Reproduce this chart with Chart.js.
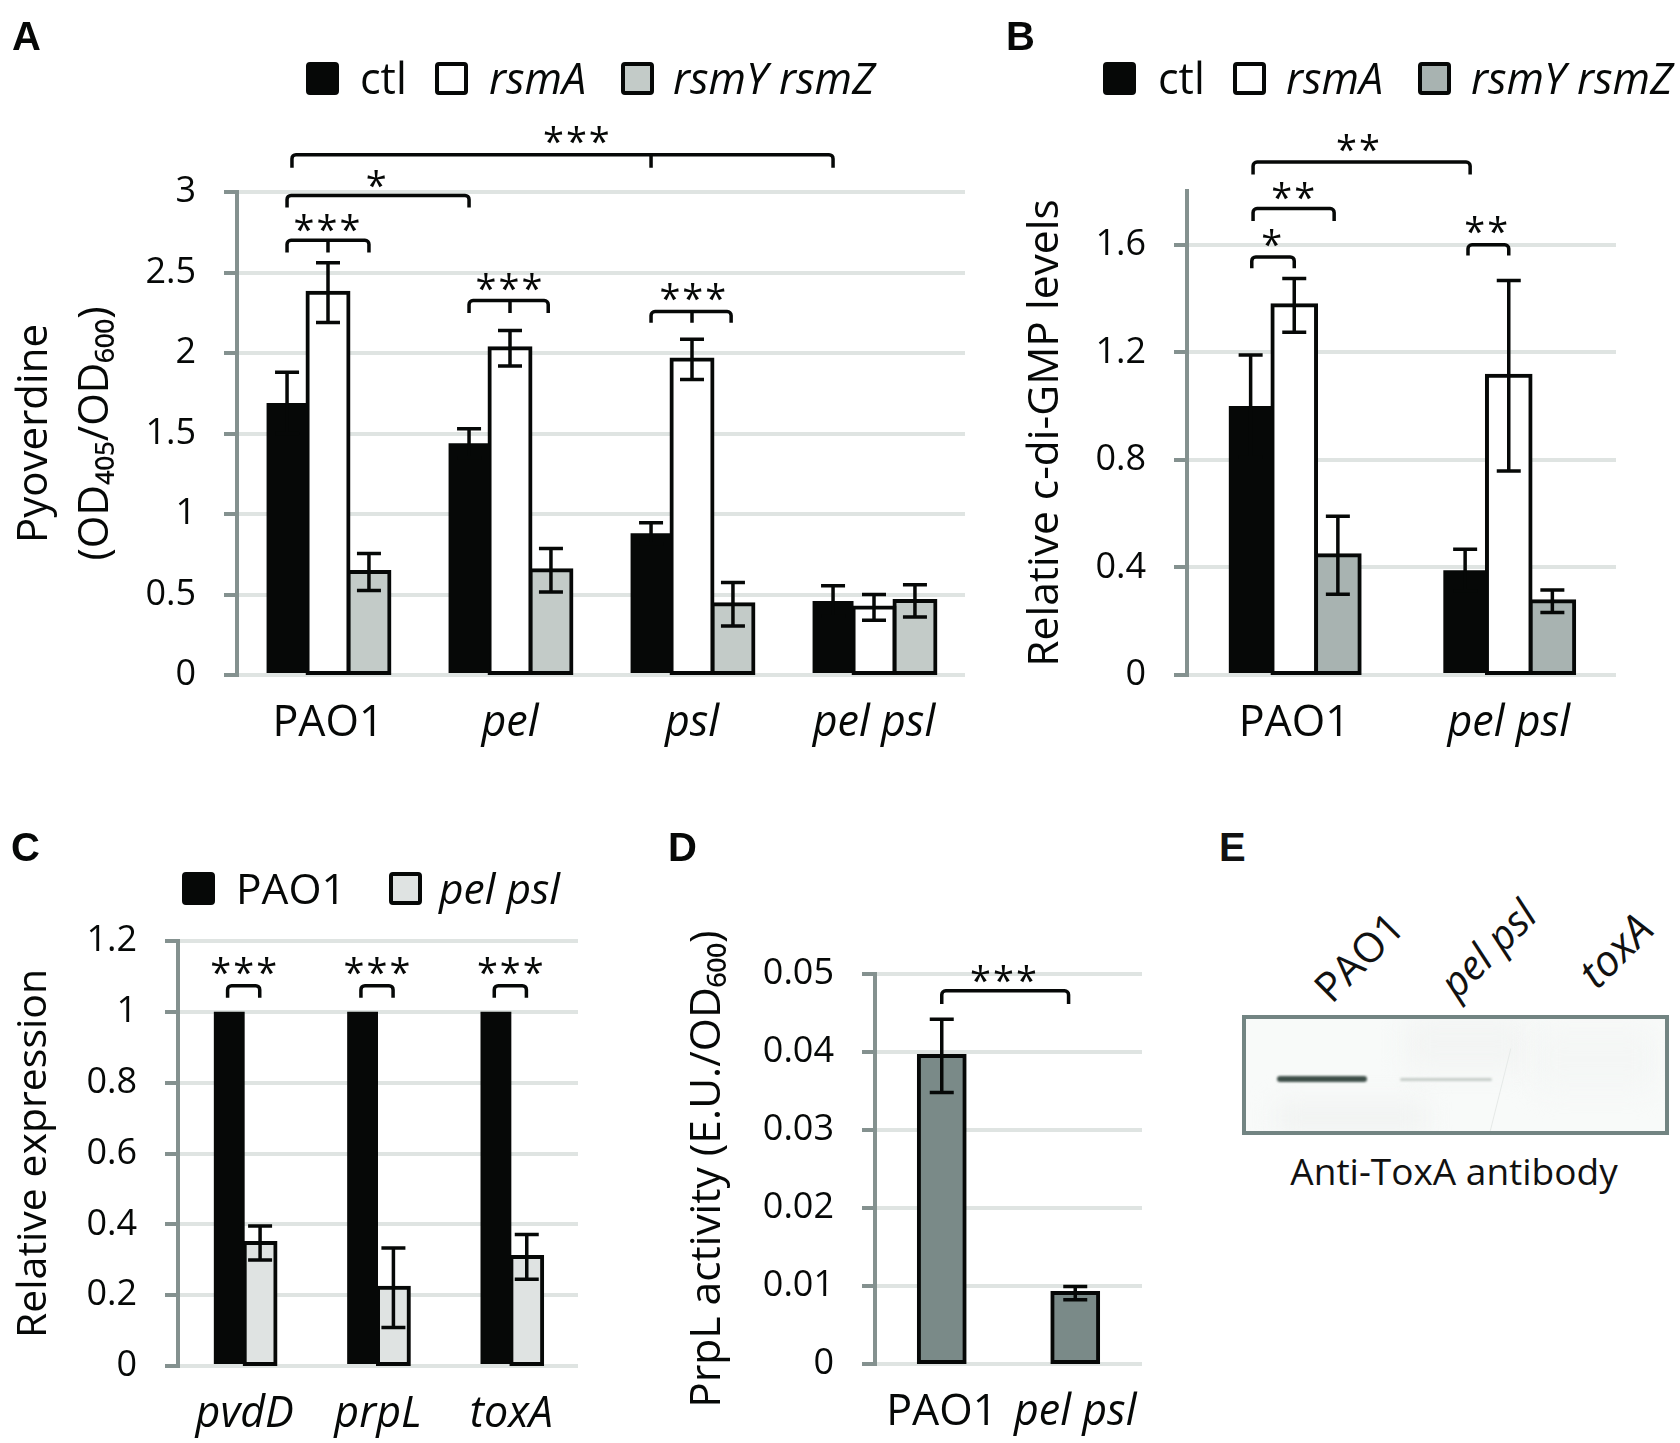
<!DOCTYPE html>
<html>
<head>
<meta charset="utf-8">
<title>Panels A-E</title>
<script src="https://cdn.jsdelivr.net/npm/chart.js@4"></script>
<style>
    body { margin: 0; background: #fff; }
    #pagina { position: relative; width: 1680px; height: 1443px; overflow: hidden; font-family: "Open Sans"; color: #111; }
    canvas { position: absolute; }
    .letra { position: absolute; font: bold 40px "Liberation Sans"; line-height: 40px; }
    .carril { position: absolute; font-size: 41px; line-height: 44px; white-space: nowrap; transform: translate(-50%, -50%) rotate(-45deg); }
    #blot { position: absolute; left: 1242px; top: 1015px; width: 419px; height: 112px; border: 4px solid #728482; background: #f8faf9; overflow: hidden; }
    .banda { position: absolute; border-radius: 3px; }
    #pie { position: absolute; left: 1454px; top: 1170px; transform: translate(-50%, -50%); font-size: 37px; white-space: nowrap; }
</style>
</head>
<body>
<div id="pagina">
    <canvas id="graficoA" width="1000" height="760" style="left:0;top:0"></canvas>
    <canvas id="graficoB" width="680" height="760" style="left:1000px;top:0"></canvas>
    <canvas id="graficoC" width="620" height="643" style="left:0;top:800px"></canvas>
    <canvas id="graficoD" width="560" height="643" style="left:640px;top:800px"></canvas>

    <div class="letra" style="left:1219px;top:827px">E</div>
    <div class="carril" style="left:1358px;top:956px">PAO1</div>
    <div class="carril" style="left:1487px;top:948px;font-style:italic">pel psl</div>
    <div class="carril" style="left:1615px;top:950px;font-style:italic;font-size:43px">toxA</div>
    <div id="blot">
        <!-- manchas suaves del fondo -->
        <div class="banda" style="left:30px;top:82px;width:150px;height:34px;background:#f1f3f2;filter:blur(12px)"></div>
        <div class="banda" style="left:160px;top:0;width:120px;height:50px;background:#f2f4f3;filter:blur(14px)"></div>
        <div class="banda" style="left:290px;top:10px;width:120px;height:60px;background:#f4f6f5;filter:blur(14px)"></div>
        <!-- bandas del western -->
        <div class="banda" style="left:31px;top:57px;width:90px;height:6px;background:#3e4f49;filter:blur(.8px)"></div>
        <div class="banda" style="left:154px;top:59px;width:92px;height:3px;background:#c6cdc9;filter:blur(1px)"></div>
        <!-- rayita de la membrana -->
        <div class="banda" style="left:253px;top:28px;width:1px;height:94px;background:#e6eae8;transform:rotate(14deg)"></div>
    </div>
    <div id="pie">Anti-ToxA antibody</div>
</div>

<script>
// Datos

// Panel A
const gruposA = ['PAO1', 'pel', 'psl', 'pel psl'];
const ctlA = [1.69, 1.44, 0.88, 0.46];
const rsmaA = [2.375, 2.03, 1.96, 0.42];
const rsmyzA = [0.64, 0.65, 0.44, 0.46];
const errCtlA = [0.19, 0.09, 0.065, 0.095];
const errRsmaA = [0.185, 0.11, 0.125, 0.08];
const errRsmyzA = [0.115, 0.135, 0.135, 0.10];

// Panel B
const gruposB = ['PAO1', 'pel psl'];
const ctlB = [1.0, 0.39];
const rsmaB = [1.375, 1.113];
const rsmyzB = [0.445, 0.274];
const errCtlB = [0.19, 0.078];
const errRsmaB = [0.10, 0.354];
const errRsmyzB = [0.145, 0.042];

// Panel C
const genesC = ['pvdD', 'prpL', 'toxA'];
const pao1C = [1, 1, 1];
const pelpslC = [0.347, 0.221, 0.308];
const errPelpslC = [0.048, 0.112, 0.063];

// Panel D
const gruposD = ['PAO1', 'pel psl'];
const actividadD = [0.0395, 0.0091];
const errActividadD = [0.0047, 0.00085];

const NEGRO = '#060807';
const fuente = '"Open Sans"';

// Dibuja letra del panel, leyenda, barras de error y corchetes
function pluginPanel(cfg) {
    return {
        id: 'panel' + cfg.letra,
        afterDatasetsDraw(chart) {
            const ctx = chart.ctx;
            const x = chart.scales.x;
            const y = chart.scales.y;
            ctx.save();

            // barras de error
            ctx.strokeStyle = NEGRO;
            ctx.lineWidth = 3.5;
            chart.data.datasets.forEach((ds, i) => {
                if (!ds.errores) return;
                chart.getDatasetMeta(i).data.forEach((barra, j) => {
                    const arriba = y.getPixelForValue(ds.data[j] + ds.errores[j]);
                    const abajo = y.getPixelForValue(ds.data[j] - ds.errores[j]);
                    ctx.beginPath();
                    ctx.moveTo(barra.x, arriba);
                    ctx.lineTo(barra.x, abajo);
                    ctx.moveTo(barra.x - 12, arriba);
                    ctx.lineTo(barra.x + 12, arriba);
                    ctx.moveTo(barra.x - 12, abajo);
                    ctx.lineTo(barra.x + 12, abajo);
                    ctx.stroke();
                });
            });

            // corchetes y asteriscos
            ctx.lineWidth = 3.5;
            cfg.corchetes.forEach(c => {
                const x0 = x.getPixelForValue(c.desde);
                const x1 = x.getPixelForValue(c.hasta);
                const yArriba = y.getPixelForValue(c.y);
                const yAbajo = y.getPixelForValue(c.yFin);
                ctx.beginPath();
                ctx.moveTo(x0, yAbajo);
                ctx.arcTo(x0, yArriba, x1, yArriba, 4);
                ctx.arcTo(x1, yArriba, x1, yAbajo, 4);
                ctx.lineTo(x1, yAbajo);
                if (c.medio !== undefined) {
                    const xm = x.getPixelForValue(c.medio);
                    ctx.moveTo(xm, yArriba);
                    ctx.lineTo(xm, yAbajo);
                }
                ctx.stroke();

                ctx.fillStyle = NEGRO;
                ctx.font = '38px ' + fuente;
                ctx.textAlign = 'center';
                ctx.textBaseline = 'alphabetic';
                ctx.letterSpacing = '2px';
                ctx.fillText(c.texto, x.getPixelForValue(c.xTexto), y.getPixelForValue(c.yTexto) + 20);
                ctx.letterSpacing = '0px';
            });

            // leyenda
            ctx.textAlign = 'left';
            ctx.textBaseline = 'middle';
            cfg.leyenda.forEach((l, i) => {
                const ds = chart.data.datasets[i];
                ctx.fillStyle = ds.backgroundColor;
                ctx.strokeStyle = NEGRO;
                ctx.lineWidth = 4;
                ctx.beginPath();
                ctx.roundRect(l.caja + 2, cfg.cajaY + 2, cfg.cajaAncho - 4, cfg.cajaAlto - 4, 2);
                ctx.fill();
                ctx.stroke();
                ctx.fillStyle = NEGRO;
                ctx.font = (l.cursiva ? 'italic ' : '') + cfg.tamLeyenda + 'px ' + fuente;
                ctx.fillText(l.texto, l.textoX, cfg.cajaY + cfg.cajaAlto / 2 + 3);
            });

            // letra del panel
            ctx.fillStyle = NEGRO;
            ctx.font = 'bold 40px "Liberation Sans"';
            ctx.textBaseline = 'alphabetic';
            ctx.fillText(cfg.letra, cfg.letraX, cfg.letraY);
            ctx.restore();
        }
    };
}

// Funcion para crear cada grafico de barras
function crearGrafica(canvasId, etiquetas, series, cfg) {
    const canvas = document.getElementById(canvasId);
    return new Chart(canvas.getContext('2d'), {
        type: 'bar',
        data: {
            labels: etiquetas,
            datasets: series.map(s => ({
                label: s.nombre,
                data: s.valores,
                errores: s.errores,
                backgroundColor: s.color,
                borderColor: NEGRO,
                borderWidth: s.color === NEGRO ? 0 : 4,
                inflateAmount: s.color === NEGRO ? 0 : 2,
                borderSkipped: false,
                barPercentage: 1,
                categoryPercentage: cfg.anchoGrupo
            }))
        },
        options: {
            responsive: false,
            animation: false,
            devicePixelRatio: 1,
            layout: { padding: { top: cfg.area.top, right: canvas.width - cfg.area.right, left: 0, bottom: 0 } },
            plugins: { legend: { display: false }, tooltip: { enabled: false } },
            scales: {
                x: {
                    grid: { display: false },
                    border: { display: false },
                    afterFit: s => { s.height = canvas.height - cfg.area.bottom; },
                    ticks: {
                        padding: 15,
                        color: NEGRO,
                        maxRotation: 0,
                        autoSkip: false,
                        font: c => ({ family: fuente, size: 43, style: c.index < cfg.rectas ? 'normal' : 'italic' })
                    }
                },
                y: {
                    min: 0,
                    max: cfg.max,
                    afterFit: s => { s.width = cfg.area.left; },
                    border: { color: '#84918f', width: 4 },
                    grid: { color: '#dfe4e2', lineWidth: 4, tickColor: '#84918f', tickWidth: 4, tickLength: 13 },
                    ticks: {
                        stepSize: cfg.paso,
                        includeBounds: false,
                        padding: 28,
                        color: NEGRO,
                        font: { family: fuente, size: 36 },
                        callback: v => String(+v.toFixed(2))
                    },
                    title: {
                        display: true,
                        text: cfg.titulo,
                        color: NEGRO,
                        font: { family: fuente, size: cfg.tamTitulo, lineHeight: cfg.alturaTitulo },
                        padding: { top: cfg.paddingTitulo, bottom: 0 }
                    }
                }
            }
        },
        plugins: [pluginPanel(cfg)]
    });
}

crearGrafica('graficoA', gruposA, [
    { nombre: 'ctl', valores: ctlA, errores: errCtlA, color: NEGRO },
    { nombre: 'rsmA', valores: rsmaA, errores: errRsmaA, color: '#ffffff' },
    { nombre: 'rsmY rsmZ', valores: rsmyzA, errores: errRsmyzA, color: '#c3cbc8' }
], {
    letra: 'A', letraX: 12, letraY: 50,
    area: { left: 237, right: 965, top: 192, bottom: 675 },
    anchoGrupo: 0.675, max: 3, paso: 0.5, rectas: 1,
    tamLeyenda: 43, tamTitulo: 42,
    titulo: ['Pyoverdine', '(OD₄₀₅/OD₆₀₀)'], alturaTitulo: 1.44, paddingTitulo: 5,
    cajaY: 62, cajaAlto: 33, cajaAncho: 33,
    leyenda: [
        { caja: 306, texto: 'ctl', textoX: 360 },
        { caja: 435, texto: 'rsmA', textoX: 489, cursiva: true },
        { caja: 621, texto: 'rsmY rsmZ', textoX: 673, cursiva: true }
    ],
    corchetes: [
        { desde: -0.198, hasta: 2.775, medio: 1.775, y: 3.232, yFin: 3.151, texto: '***', xTexto: 1.37, yTexto: 3.352 },
        { desde: -0.225, hasta: 0.775, y: 2.979, yFin: 2.904, texto: '*', xTexto: 0.27, yTexto: 3.08 },
        { desde: -0.225, hasta: 0.225, medio: 0, y: 2.70, yFin: 2.624, texto: '***', xTexto: 0, yTexto: 2.81 },
        { desde: 0.775, hasta: 1.21, medio: 1, y: 2.326, yFin: 2.248, texto: '***', xTexto: 1, yTexto: 2.44 },
        { desde: 1.775, hasta: 2.215, medio: 2, y: 2.257, yFin: 2.188, texto: '***', xTexto: 2.01, yTexto: 2.377 }
    ]
});

crearGrafica('graficoB', gruposB, [
    { nombre: 'ctl', valores: ctlB, errores: errCtlB, color: NEGRO },
    { nombre: 'rsmA', valores: rsmaB, errores: errRsmaB, color: '#ffffff' },
    { nombre: 'rsmY rsmZ', valores: rsmyzB, errores: errRsmyzB, color: '#a8b3b1' }
], {
    letra: 'B', letraX: 6, letraY: 50,
    area: { left: 187, right: 616, top: 191, bottom: 675 },
    anchoGrupo: 0.61, max: 1.8, paso: 0.4, rectas: 1,
    tamLeyenda: 43, tamTitulo: 42.5,
    titulo: 'Relative c-di-GMP levels', alturaTitulo: 1.2, paddingTitulo: 20,
    cajaY: 62, cajaAlto: 33, cajaAncho: 33,
    leyenda: [
        { caja: 103, texto: 'ctl', textoX: 158 },
        { caja: 233, texto: 'rsmA', textoX: 286, cursiva: true },
        { caja: 418, texto: 'rsmY rsmZ', textoX: 471, cursiva: true }
    ],
    corchetes: [
        { desde: -0.192, hasta: 0.82, y: 1.908, yFin: 1.861, texto: '**', xTexto: 0.302, yTexto: 1.979 },
        { desde: -0.192, hasta: 0.186, y: 1.735, yFin: 1.688, texto: '**', xTexto: 0, yTexto: 1.80 },
        { desde: -0.198, hasta: 0, y: 1.555, yFin: 1.513, texto: '*', xTexto: -0.1, yTexto: 1.627 },
        { desde: 0.81, hasta: 1, y: 1.60, yFin: 1.56, texto: '**', xTexto: 0.9, yTexto: 1.672 }
    ]
});

crearGrafica('graficoC', genesC, [
    { nombre: 'PAO1', valores: pao1C, color: NEGRO },
    { nombre: 'pel psl', valores: pelpslC, errores: errPelpslC, color: '#dfe3e2' }
], {
    letra: 'C', letraX: 11, letraY: 61,
    area: { left: 178, right: 578, top: 141, bottom: 566 },
    anchoGrupo: 0.4625, max: 1.2, paso: 0.2, rectas: 0,
    tamLeyenda: 42.5, tamTitulo: 41,
    titulo: 'Relative expression', alturaTitulo: 1.2, paddingTitulo: 10,
    cajaY: 72, cajaAlto: 33, cajaAncho: 33,
    leyenda: [
        { caja: 182, texto: 'PAO1', textoX: 236 },
        { caja: 389, texto: 'pel psl', textoX: 439, cursiva: true }
    ],
    corchetes: [
        { desde: -0.128, hasta: 0.113, y: 1.074, yFin: 1.04, texto: '***', xTexto: 0, yTexto: 1.129 },
        { desde: 0.872, hasta: 1.113, y: 1.074, yFin: 1.04, texto: '***', xTexto: 1, yTexto: 1.129 },
        { desde: 1.872, hasta: 2.113, y: 1.074, yFin: 1.04, texto: '***', xTexto: 2, yTexto: 1.129 }
    ]
});

crearGrafica('graficoD', gruposD, [
    { nombre: 'Actividad', valores: actividadD, errores: errActividadD, color: '#7a8a88' }
], {
    letra: 'D', letraX: 28, letraY: 61,
    area: { left: 235, right: 502, top: 174, bottom: 564 },
    anchoGrupo: 0.343, max: 0.05, paso: 0.01, rectas: 1,
    tamLeyenda: 43, tamTitulo: 42.5,
    titulo: 'PrpL activity (E.U./OD₆₀₀)', alturaTitulo: 1.2, paddingTitulo: 42,
    cajaY: 0, cajaAlto: 0, cajaAncho: 0,
    leyenda: [],
    corchetes: [
        { desde: 0, hasta: 0.95, y: 0.04784, yFin: 0.04616, texto: '***', xTexto: 0.47, yTexto: 0.05 }
    ]
});
</script>
</body>
</html>
